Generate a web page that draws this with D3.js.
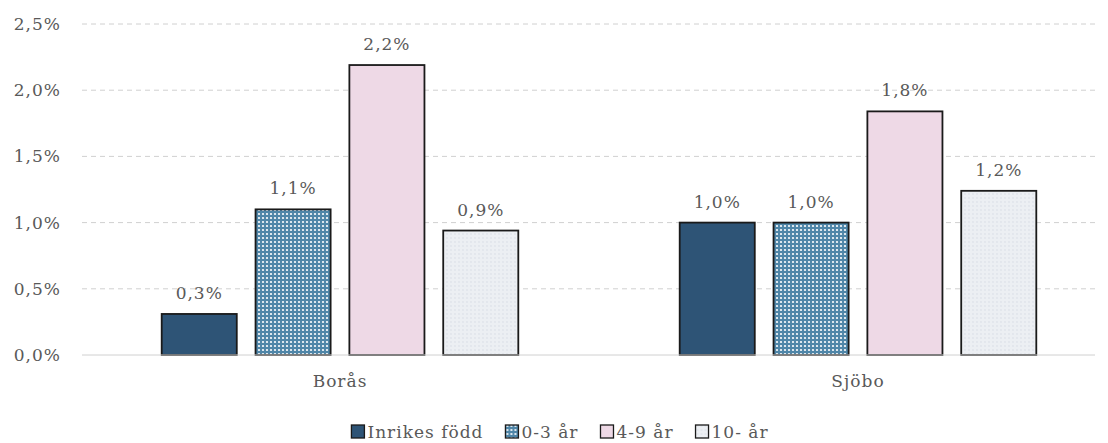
<!DOCTYPE html>
<html>
<head>
<meta charset="utf-8">
<script src="https://d3js.org/d3.v7.min.js"></script>
<style>
  body { margin: 0; background: white; }
  text { font-family: "DejaVu Serif", serif; fill: #595959; letter-spacing: 1px; }
</style>
</head>
<body>
<div id="chart"></div>
<script>
var categories = ["Borås", "Sjöbo"];
var seriesNames = ["Inrikes född", "0-3 år", "4-9 år", "10- år"];
var borasValues = [0.0031, 0.0110, 0.0219, 0.0094];
var sjoboValues = [0.0100, 0.0100, 0.0184, 0.0124];
var yTicks = [0, 0.005, 0.01, 0.015, 0.02, 0.025];

var width = 1108, height = 443;
var margin = {top: 24, right: 13, bottom: 88, left: 82};
var fontSize = "17px";

var svg = d3.select("#chart").append("svg")
  .attr("width", width).attr("height", height);

var defs = svg.append("defs");
// dotted pattern for 0-3 år
var p1 = defs.append("pattern").attr("id", "dots").attr("patternUnits", "userSpaceOnUse")
  .attr("width", 4).attr("height", 4);
p1.append("rect").attr("width", 4).attr("height", 4).attr("fill", "#4f86a8");
p1.append("circle").attr("cx", 2).attr("cy", 2).attr("r", 1.1).attr("fill", "#ffffff");
// faint pattern for 10- år
var p2 = defs.append("pattern").attr("id", "faint").attr("patternUnits", "userSpaceOnUse")
  .attr("width", 4).attr("height", 4);
p2.append("rect").attr("width", 4).attr("height", 4).attr("fill", "#eceff3");
p2.append("circle").attr("cx", 2).attr("cy", 2).attr("r", 0.9).attr("fill", "#dfe3ea");

var fills = ["#2e5476", "url(#dots)", "#eed9e6", "url(#faint)"];

var data = categories.map(function(c, i) {
  return {cat: c, values: i === 0 ? borasValues : sjoboValues};
});

var x0 = d3.scaleBand().domain(categories).range([81, 1117]);
var x1 = d3.scaleBand().domain(seriesNames)
  .range([0, x0.bandwidth()]).paddingInner(0.2).paddingOuter(0.86);
var y = d3.scaleLinear().domain([0, 0.025]).range([height - margin.bottom, margin.top]);

var fmt = function(v) { return d3.format(".1f")(v * 100).replace(".", ",") + "%"; };

// gridlines
svg.append("g").selectAll("line").data(yTicks.slice(1)).enter().append("line")
  .attr("x1", margin.left).attr("x2", width - margin.right)
  .attr("y1", function(d) { return y(d); }).attr("y2", function(d) { return y(d); })
  .attr("stroke", "#d0d0d0").attr("stroke-width", 1).attr("stroke-dasharray", "5,4");

// y axis
var yAxis = d3.axisLeft(y).tickValues(yTicks).tickSize(0).tickPadding(21).tickFormat(fmt);
var ya = svg.append("g").attr("transform", "translate(" + margin.left + ",0)").call(yAxis);
ya.select(".domain").remove();
ya.selectAll("text").style("font-size", fontSize).attr("fill", "#595959");

// bars
var groups = svg.selectAll(".grp").data(data).enter().append("g")
  .attr("transform", function(d) { return "translate(" + x0(d.cat) + ",0)"; });

groups.selectAll("rect").data(function(d) { return d.values; }).enter().append("rect")
  .attr("x", function(d, i) { return x1(seriesNames[i]); })
  .attr("y", function(d) { return y(d); })
  .attr("width", x1.bandwidth())
  .attr("height", function(d) { return y(0) - y(d); })
  .attr("fill", function(d, i) { return fills[i]; })
  .attr("stroke", "#1a1a1a").attr("stroke-width", 1.8);

groups.selectAll(".lbl").data(function(d) { return d.values; }).enter().append("text")
  .attr("x", function(d, i) { return x1(seriesNames[i]) + x1.bandwidth() / 2; })
  .attr("y", function(d) { return y(d) - 15; })
  .attr("text-anchor", "middle").style("font-size", fontSize)
  .text(fmt);

// baseline
svg.append("line").attr("x1", margin.left).attr("x2", width - margin.right)
  .attr("y1", y(0)).attr("y2", y(0)).attr("stroke", "#d0d0d0").attr("stroke-width", 1);

// x axis labels
var xAxis = d3.axisBottom(x0).tickSize(0).tickPadding(20);
var xa = svg.append("g").attr("transform", "translate(0," + y(0) + ")").call(xAxis);
xa.select(".domain").remove();
xa.selectAll("text").style("font-size", fontSize).attr("fill", "#595959");

// legend
var leg = svg.append("g").attr("transform", "translate(0,432)");
var items = leg.selectAll("g").data(seriesNames).enter().append("g");
items.append("rect").attr("x", 0).attr("y", -7).attr("width", 13).attr("height", 13)
  .attr("fill", function(d, i) { return fills[i]; })
  .attr("stroke", "#1a1a1a").attr("stroke-width", 1.3);
items.append("text").attr("x", 16).attr("y", 6).style("font-size", fontSize)
  .text(function(d) { return d; });
var widths = [];
items.each(function() { widths.push(16 + d3.select(this).select("text").node().getComputedTextLength()); });
var gap = 22;
var total = d3.sum(widths) + gap * (widths.length - 1);
var cx = 560 - total / 2;
items.attr("transform", function(d, i) {
  var t = "translate(" + cx + ",0)";
  cx += widths[i] + gap;
  return t;
});
</script>
</body>
</html>
